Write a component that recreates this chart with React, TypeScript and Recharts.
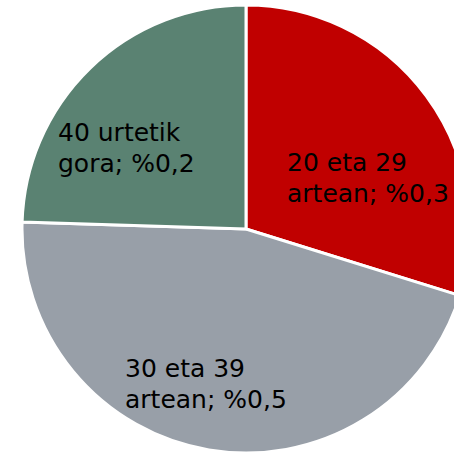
import { PieChart, Pie, Cell } from "recharts";

const categories = ["20 eta 29 artean", "30 eta 39 artean", "40 urtetik gora"];
const shares = [0.298, 0.457, 0.245];
const shareLabels = ["%0,3", "%0,5", "%0,2"];
const colors = ["#C00000", "#989FA8", "#5A8272"];

// label text split into two lines, as drawn in the reference
const labelLines = [
  ["20 eta 29", "artean; " + shareLabels[0]],
  ["30 eta 39", "artean; " + shareLabels[1]],
  ["40 urtetik", "gora; " + shareLabels[2]],
];

// where each label block sits, relative to the pie centre
const labelOffsets = [
  { dx: 41, dy: -58 },
  { dx: -121, dy: 148 },
  { dx: -188, dy: -88 },
];

const data = categories.map((name, i) => ({ name, value: shares[i] }));

function renderLabel(props: any) {
  const { cx, cy, index } = props;
  const off = labelOffsets[index];
  const x = cx + off.dx;
  const y = cy + off.dy;
  return (
    <text
      x={x}
      y={y}
      fill="#000"
      textAnchor="start"
      fontFamily="DejaVu Sans"
      fontSize={25}
    >
      {labelLines[index].map((line, j) => (
        <tspan key={j} x={x} y={y + j * 31}>
          {line}
        </tspan>
      ))}
    </text>
  );
}

export default function App() {
  return (
    <div style={{ position: "absolute", left: 0, top: 0, background: "#fff" }}>
      <PieChart width={454} height={454} margin={{ top: 0, right: 0, bottom: 0, left: 0 }}>
        <Pie
          data={data}
          dataKey="value"
          nameKey="name"
          cx={246}
          cy={229}
          outerRadius={224}
          startAngle={90}
          endAngle={-270}
          stroke="#fff"
          strokeWidth={3}
          label={renderLabel}
          labelLine={false}
          isAnimationActive={false}
        >
          {data.map((d, i) => (
            <Cell key={d.name} fill={colors[i]} />
          ))}
        </Pie>
      </PieChart>
    </div>
  );
}
